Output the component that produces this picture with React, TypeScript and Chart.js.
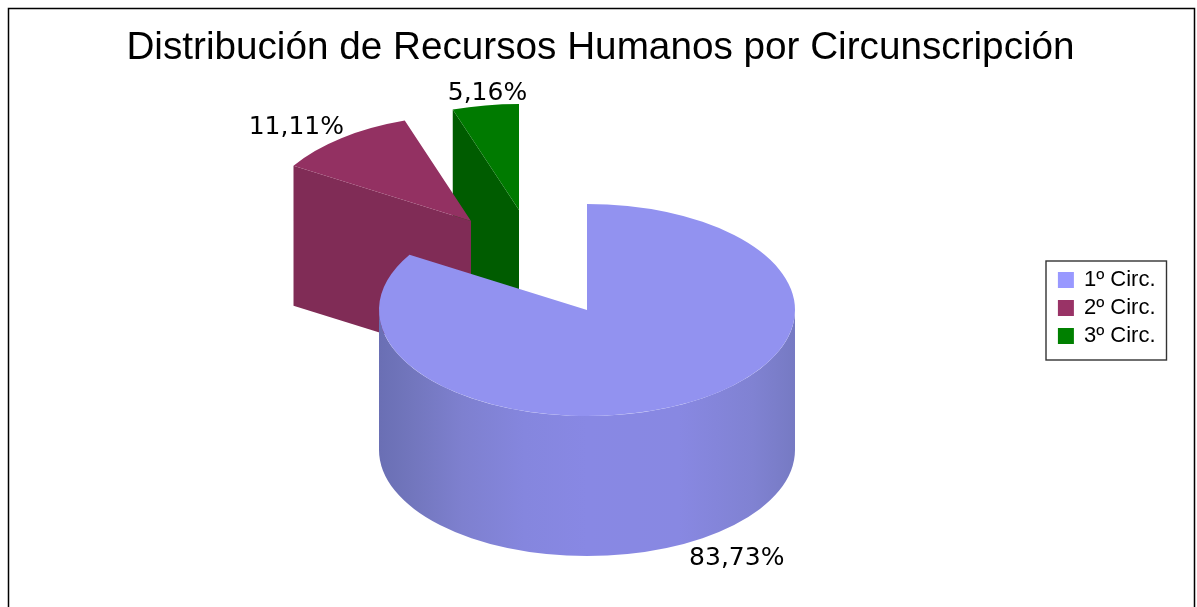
import React, { useEffect, useRef } from "react";
import { Chart, registerables } from "chart.js";

Chart.register(...registerables);

const titleText = "Distribución de Recursos Humanos por Circunscripción";
const categories = ["1º Circ.", "2º Circ.", "3º Circ."];
const shares = [83.73, 11.11, 5.16];
const legendColors = ["#9999ff", "#993366", "#008000"];
const topColors = ["#9292f0", "#933162", "#007a00"];
const cutColors = ["#8888e4", "#802c56", "#005c00"];

const scene = {
  cx: 587,
  cy: 310,
  rx: 208,
  ry: 106,
  depth: 140,
  explode: [
    [0, 0],
    [-116, -89],
    [-68, -100],
  ],
  labelNudge: [
    [48, 16],
    [-45, -11],
    [2, -12],
  ],
  wallStops: [
    [0, "#6a6fb4"],
    [0.08, "#7276bd"],
    [0.2, "#7e80cf"],
    [0.35, "#8586de"],
    [0.5, "#8888e4"],
    [0.72, "#8888e2"],
    [0.9, "#8082d2"],
    [1, "#767ac3"],
  ],
};

const pie3d = {
  id: "pie3d",
  beforeDatasetDraw(chart: any) {
    const ctx = chart.ctx;
    const { cx, cy, rx, ry, depth, explode, wallStops } = scene;
    const arcs = chart.getDatasetMeta(0).data;
    for (let i = arcs.length - 1; i >= 0; i--) {
      const arc = arcs[i];
      const ox = cx + explode[i][0];
      const oy = cy + explode[i][1];
      const a0 = arc.startAngle;
      const a1 = arc.endAngle;

      // cut face along the starting edge
      const rimX = ox + Math.cos(a0) * rx;
      const rimY = oy + Math.sin(a0) * ry;
      ctx.beginPath();
      ctx.moveTo(rimX, rimY);
      ctx.lineTo(ox, oy);
      ctx.lineTo(ox, oy + depth);
      ctx.lineTo(rimX, rimY + depth);
      ctx.closePath();
      ctx.fillStyle = cutColors[i];
      ctx.fill();

      // outer wall, only on the front half of the ellipse
      const w0 = Math.max(a0, 0);
      const w1 = Math.min(a1, Math.PI);
      if (w1 > w0) {
        const grad = ctx.createLinearGradient(ox - rx, 0, ox + rx, 0);
        wallStops.forEach(([p, c]: any) => grad.addColorStop(p, c));
        ctx.beginPath();
        ctx.ellipse(ox, oy, rx, ry, 0, w0, w1, false);
        ctx.ellipse(ox, oy + depth, rx, ry, 0, w1, w0, true);
        ctx.closePath();
        ctx.fillStyle = grad;
        ctx.fill();
      }

      // top face: the library's own arc, squashed into the ellipse
      ctx.save();
      ctx.translate(ox, oy);
      ctx.scale(rx / arc.outerRadius, ry / arc.outerRadius);
      ctx.translate(-arc.x, -arc.y);
      arc.draw(ctx);
      ctx.restore();
    }
    return false;
  },
  afterDraw(chart: any) {
    const ctx = chart.ctx;
    const { cx, cy, rx, ry, depth, explode, labelNudge } = scene;
    const arcs = chart.getDatasetMeta(0).data;
    ctx.save();
    ctx.fillStyle = "#000";
    ctx.font = '25px "DejaVu Sans"';
    ctx.textAlign = "center";
    ctx.textBaseline = "middle";
    arcs.forEach((arc: any, i: number) => {
      const mid = (arc.startAngle + arc.endAngle) / 2;
      const hasWall = Math.sin(mid) > 0 ? depth : 0;
      const x = cx + explode[i][0] + Math.cos(mid) * rx + labelNudge[i][0];
      const y = cy + explode[i][1] + Math.sin(mid) * ry + hasWall + labelNudge[i][1];
      const text = shares[i].toFixed(2).replace(".", ",") + "%";
      ctx.fillText(text, x, y);
    });

    // legend frame
    ctx.strokeStyle = "#333";
    ctx.lineWidth = 1.4;
    ctx.strokeRect(1046, 261, 120.5, 99);

    // picture frame, open at the bottom
    ctx.strokeStyle = "#000";
    ctx.lineWidth = 1.5;
    ctx.beginPath();
    ctx.moveTo(8.5, 607);
    ctx.lineTo(8.5, 8.5);
    ctx.lineTo(1194.5, 8.5);
    ctx.lineTo(1194.5, 607);
    ctx.stroke();
    ctx.restore();
  },
};

export default function App() {
  const ref = useRef<HTMLCanvasElement>(null);
  useEffect(() => {
    const chart = new Chart(ref.current as HTMLCanvasElement, {
      type: "pie",
      data: {
        labels: categories,
        datasets: [
          {
            data: shares,
            backgroundColor: topColors,
            borderWidth: 0,
          },
        ],
      },
      plugins: [pie3d],
      options: {
        responsive: false,
        animation: false,
        layout: { padding: { left: 35.5, right: 31.5, top: 12, bottom: 2.9 } },
        plugins: {
          tooltip: { enabled: false },
          title: {
            display: true,
            text: titleText,
            color: "#000",
            font: { family: '"Liberation Sans"', size: 38.7, weight: "normal" },
            padding: { top: 13.5, bottom: 0 },
          },
          legend: {
            display: true,
            position: "right",
            labels: {
              color: "#000",
              font: { family: '"Liberation Sans"', size: 22 },
              boxWidth: 14,
              boxHeight: 14,
              padding: 6,
              generateLabels: () =>
                categories.map((text, i) => ({
                  text,
                  fillStyle: legendColors[i],
                  strokeStyle: legendColors[i],
                  fontColor: "#000",
                  lineWidth: 2,
                  hidden: false,
                  index: i,
                })),
            },
          },
        },
      },
    } as any);
    return () => chart.destroy();
  }, []);
  return (
    <div style={{ position: "fixed", left: 0, top: 0, width: 1197, height: 607, overflow: "hidden", background: "#fff" }}>
      <canvas ref={ref} width={1197} height={607} style={{ display: "block" }} />
    </div>
  );
}
